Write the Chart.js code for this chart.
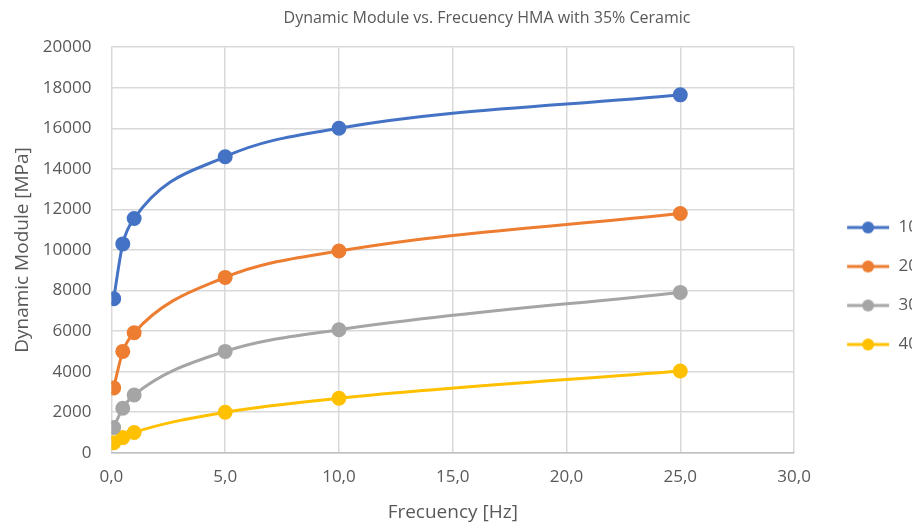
<!DOCTYPE html>
<html>
<head>
<meta charset="utf-8">
<script src="https://cdn.jsdelivr.net/npm/chart.js@4"></script>
<style>
html, body { margin: 0; padding: 0; background: #fff; overflow: hidden; }
#wrap { width: 975px; height: 524px; }
</style>
</head>
<body>
<div id="wrap"><canvas id="dynChart"></canvas></div>
<script>
// frecuencias de ensayo [Hz]
const frequencies = [0.1, 0.5, 1, 5, 10, 25];
// modulo dinamico [MPa] por temperatura
const mod10 = [7600, 10300, 11550, 14600, 16000, 17650];
const mod20 = [3200, 5000, 5920, 8650, 9950, 11800];
const mod30 = [1250, 2200, 2850, 5000, 6070, 7910];
const mod40 = [500, 750, 1000, 2000, 2690, 4030];
const seriesNames = ['10°C', '20°C', '30°C', '40°C'];
const seriesColors = ['#4472C4', '#ED7D31', '#A5A5A5', '#FFC000'];

function toPoints(vals) {
	return vals.map((v, i) => ({ x: frequencies[i], y: v }));
}

// icono de leyenda: linea con circulo
function legendIcon(color) {
	const c = document.createElement('canvas');
	c.width = 44; c.height = 14;
	const g = c.getContext('2d');
	g.strokeStyle = color; g.lineWidth = 3;
	g.beginPath(); g.moveTo(1, 7); g.lineTo(43, 7); g.stroke();
	g.fillStyle = color;
	g.beginPath(); g.arc(22, 7, 6, 0, Math.PI * 2); g.fill();
	return c;
}

// mueve la leyenda y el titulo como en Excel
const LEGEND_DX = 30;
const LEGEND_DY = 22;
const TITLE_DX = 29;
const boxShift = {
	id: 'boxShift',
	afterLayout(chart) {
		const lg = chart.legend;
		if (lg) {
			lg.left += LEGEND_DX; lg.right += LEGEND_DX;
			lg.top += LEGEND_DY; lg.bottom += LEGEND_DY;
		}
		const tb = chart.titleBlock;
		if (tb) {
			tb.left += TITLE_DX; tb.right += TITLE_DX;
		}
	}
};

const allSeries = [mod10, mod20, mod30, mod40];
const datasets = allSeries.map((vals, i) => ({
	label: seriesNames[i],
	data: toPoints(vals),
	borderColor: seriesColors[i],
	backgroundColor: seriesColors[i],
	borderWidth: 3,
	pointRadius: 6,
	pointHoverRadius: 6,
	tension: 0.4,
	cubicInterpolationMode: 'monotone',
	fill: false
}));

const textColor = '#595959';
const fontFam = '"Open Sans", "Liberation Sans", sans-serif';

var ctx = document.getElementById('dynChart').getContext('2d');
var dynChart = new Chart(ctx, {
	type: 'line',
	data: { datasets: datasets },
	plugins: [boxShift],
	options: {
		responsive: true,
		maintainAspectRatio: false,
		animation: false,
		layout: { padding: { left: 0, top: 4, right: 59, bottom: 0 } },
		plugins: {
			title: {
				display: true,
				text: 'Dynamic Module vs. Frecuency HMA with 35% Ceramic',
				color: textColor,
				font: { family: fontFam, size: 16, weight: 'normal' },
				padding: { top: 5, bottom: 19 }
			},
			legend: {
				position: 'right',
				labels: {
					color: textColor,
					font: { family: fontFam, size: 17 },
					usePointStyle: true,
					pointStyleWidth: 44,
					boxHeight: 14,
					padding: 22,
					generateLabels: function(chart) {
						return chart.data.datasets.map((ds, i) => ({
							text: ds.label,
							fillStyle: ds.borderColor,
							strokeStyle: ds.borderColor,
							pointStyle: legendIcon(ds.borderColor),
							fontColor: textColor,
							datasetIndex: i,
							hidden: false
						}));
					}
				}
			},
			tooltip: { enabled: false }
		},
		scales: {
			x: {
				type: 'linear',
				min: 0,
				max: 30,
				ticks: {
					stepSize: 5,
					color: textColor,
					font: { family: fontFam, size: 17 },
					padding: 14,
					callback: v => v.toFixed(1).replace('.', ',')
				},
				grid: { color: '#D9D9D9', lineWidth: 1.5, drawTicks: false },
				border: { color: '#BFBFBF', width: 1.5 },
				title: {
					display: true,
					text: 'Frecuency [Hz]',
					color: textColor,
					font: { family: fontFam, size: 19 },
					padding: { top: 0, bottom: 0 }
				}
			},
			y: {
				min: 0,
				max: 20000,
				ticks: {
					stepSize: 2000,
					color: textColor,
					font: { family: fontFam, size: 17 },
					padding: 20,
					callback: v => String(v)
				},
				grid: { color: '#D9D9D9', lineWidth: 1.5, drawTicks: false },
				border: { display: false },
				title: {
					display: true,
					text: 'Dynamic Module [MPa]',
					color: textColor,
					font: { family: fontFam, size: 19 },
					padding: { top: 11, bottom: -11 }
				}
			}
		}
	}
});
</script>
</body>
</html>
